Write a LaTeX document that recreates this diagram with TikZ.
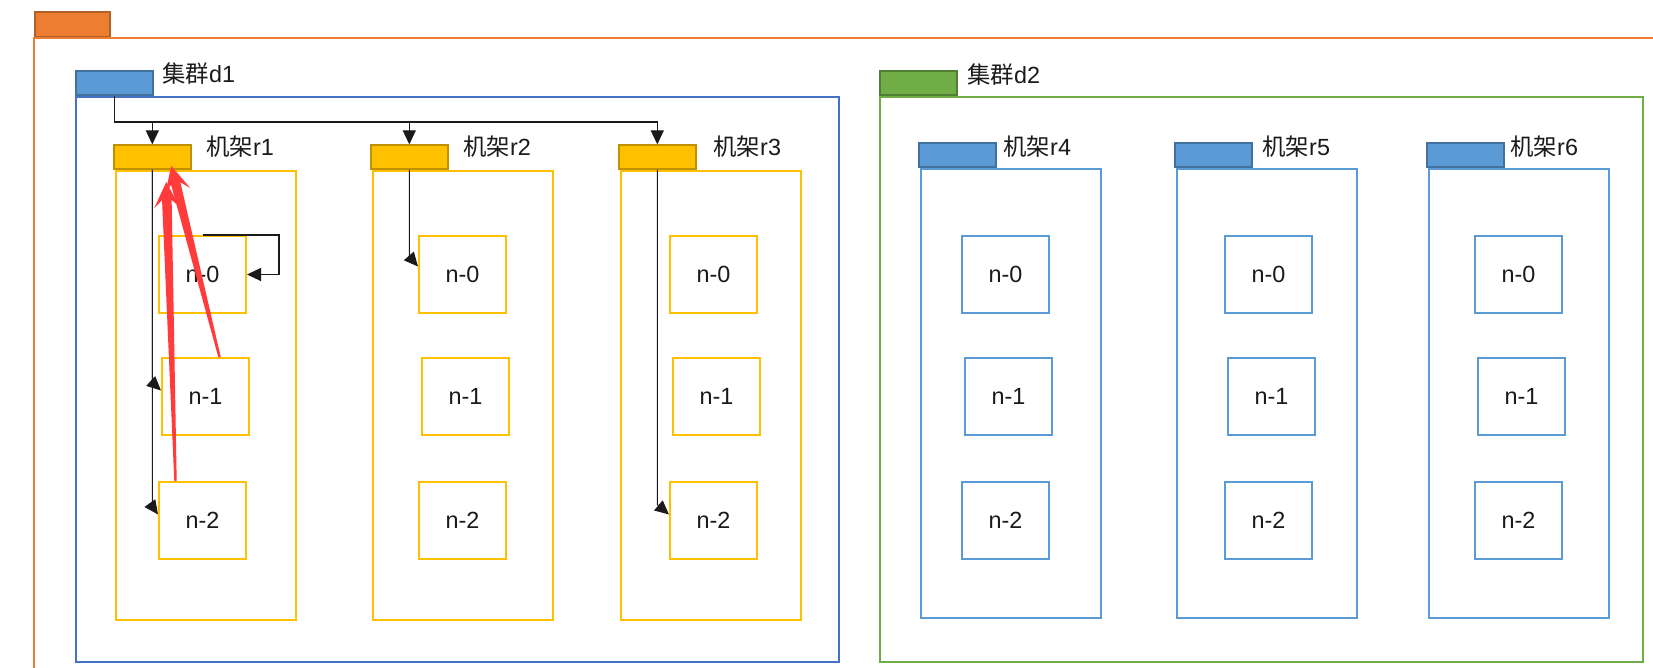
\documentclass[tikz,border=0pt]{standalone}
\usepackage{fontspec}
\setmainfont{Liberation Sans}
\newfontfamily\cjk{Noto Sans CJK SC}
\usetikzlibrary{arrows.meta,positioning,calc}
\definecolor{ink}{HTML}{1A1A1A}
\definecolor{orange}{HTML}{ED7D31}
\definecolor{orangedark}{HTML}{B0612A}
\definecolor{tabblue}{HTML}{5B9BD5}
\definecolor{tabbluedark}{HTML}{41719C}
\definecolor{navy}{HTML}{4472C4}
\definecolor{leaf}{HTML}{70AD47}
\definecolor{leafdark}{HTML}{507E32}
\definecolor{gold}{HTML}{FFC000}
\definecolor{golddark}{HTML}{BF9000}
\definecolor{alert}{HTML}{FF3B3B}
% tapered red mark from #1 (tail) to #2 (tip)
\newcommand\redmark[2]{%
  \fill[alert] ($(#1)!.6pt!90:(#2)$) -- ($($(#2)!9pt!(#1)$)!2.4pt!90:(#2)$) -- ($($(#2)!13pt!(#1)$)!6.5pt!90:(#2)$) -- (#2)
    -- ($($(#2)!13pt!(#1)$)!6.5pt!-90:(#2)$) -- ($($(#2)!9pt!(#1)$)!2.4pt!-90:(#2)$) -- ($(#1)!.6pt!-90:(#2)$) -- cycle;}

\begin{document}
\begin{tikzpicture}[x=0.5pt,y=-0.5pt,font=\fontsize{11.7}{14}\selectfont,text=ink,
 tabbox/.style={draw=#1dark,fill=#1,line width=.8pt,minimum width=38.5pt,minimum height=12pt,inner sep=0pt,anchor=south west},
 zone/.style={draw=#1,line width=1pt,minimum width=381.5pt,minimum height=282.5pt,inner sep=0pt,anchor=north west},
 rackbox/.style={draw=#1,line width=1pt,minimum width=90pt,minimum height=224.5pt,inner sep=0pt,anchor=north west},
 hostbox/.style={draw=#1,line width=1pt,minimum width=43.5pt,minimum height=38.5pt,inner sep=0pt,anchor=north west},
 lbl/.style={anchor=west,inner sep=0pt},
 flow/.style={-{Triangle[length=7pt,width=6.5pt]},draw=ink,line width=.55pt}]
\path[use as bounding box,fill=white] (0,0) rectangle (1653,668);

% outer frame, open to the right and bottom
\node[tabbox=orange,minimum width=37.5pt,minimum height=12.5pt] (top) at (34,38) {};
\draw[orange,line width=1pt] (top.south west |- 0,668) -- (top.south west) -- (1653,38);

% clusters
\node[zone=navy] (d1) at (75,96) {};
\node[tabbox=tabblue] (d1tab) at (75,96) {};
\node[lbl] (d1lbl) at (162,74) {{\cjk 集群}d1};
\node[zone=leaf] (d2) at (879,96) {};
\node[tabbox=leaf] (d2tab) at (879,96) {};
\node[lbl] (d2lbl) at (967,75) {{\cjk 集群}d2};

% racks and hosts
\foreach \r/\rx/\ry/\hx/\c/\lx in {r1/115/170/158/gold/206,r2/372/170/418/gold/463,r3/620/170/669/gold/713,
  r4/920/168/961/tabblue/1003,r5/1176/168/1224/tabblue/1262,r6/1428/168/1474/tabblue/1510}{
  \node[rackbox=\c] (\r) at (\rx,\ry) {};
  \node[tabbox=\c] (\r-tab) at (\rx-2,\ry) {};
  \node[lbl] (\r-lbl) at (\lx,147) {{\cjk 机架}\r};
  \node[hostbox=\c] (\r-n0) at (\hx,235) {n-0};
  \node[hostbox=\c] (\r-n1) at (\hx+3,357) {n-1};
  \node[hostbox=\c] (\r-n2) at (\hx,481) {n-2};
}

% cluster d1 to its racks
\coordinate (bus) at (0,122);
\draw[flow] (d1tab.south) |- (r3-tab.north |- bus) -- (r3-tab.north);
\draw[flow] (r1-tab.north |- bus) -- (r1-tab.north);
\draw[flow] (r2-tab.north |- bus) -- (r2-tab.north);

% racks to hosts
\draw[flow] (r1-tab.south) -- ($(r1-tab.south |- r1-n1.west)+(0,-14)$) -- ($(r1-n1.west)+(0,-6)$);
\draw[flow] (r1-tab.south) -- ($(r1-tab.south |- r1-n2.west)+(0,-14)$) -- ($(r1-n2.west)+(0,-6)$);
\draw[flow] (r1-n0.north) -| ($(r1-n0.east)+(32,0)$) -- (r1-n0.east);
\draw[flow] (r2-tab.south) -- ($(r2-tab.south |- r2-n0.west)+(0,-18)$) -- ($(r2-n0.west)+(0,-8)$);
\draw[flow] (r3-tab.south) -- ($(r3-tab.south |- r3-n2.west)+(0,-16)$) -- ($(r3-n2.west)+(0,-6)$);

% red marks
\coordinate (m1) at ($(r1-n1.north)+(14,0)$);
\coordinate (m1tip) at ($(r1-tab.south)+(19,-4)$);
\coordinate (m2) at ($(r1-n2.north)+(-27,0)$);
\coordinate (m2tip) at ($(r1-tab.south)+(14,12)$);
\redmark{m1}{m1tip}
\redmark{m2}{m2tip}
\end{tikzpicture}
\end{document}
